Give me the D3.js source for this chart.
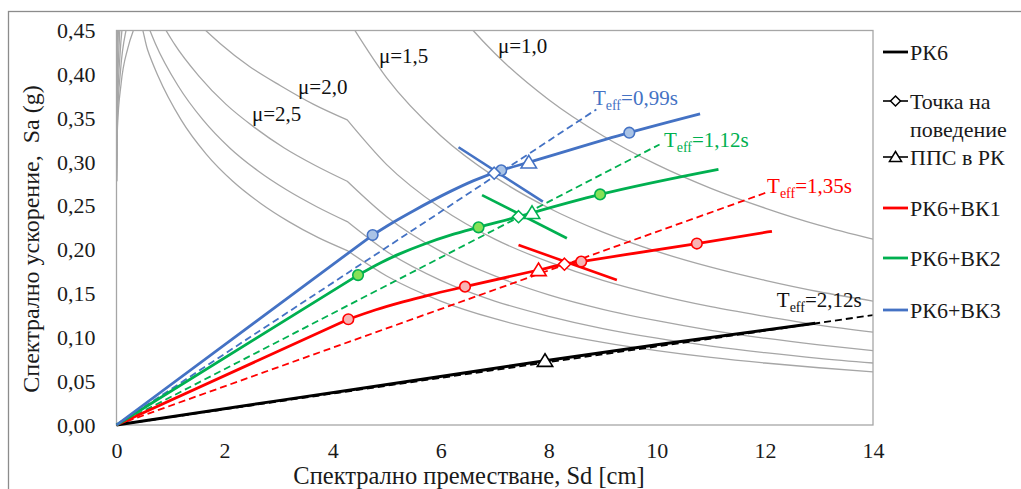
<!DOCTYPE html>
<html>
<head>
<meta charset="utf-8">
<script src="https://cdn.jsdelivr.net/npm/d3@7"></script>
<style>
  body { margin: 0; background: #fff; }
  svg { display: block; }
</style>
</head>
<body>
<svg id="chart" width="1021" height="489"></svg>
<script>
// axis ticks
const xTicks = [0, 2, 4, 6, 8, 10, 12, 14];
const yTicks = [0, 0.05, 0.1, 0.15, 0.2, 0.25, 0.3, 0.35, 0.4, 0.45];

// reduced demand spectra (Sd [cm], Sa [g]) for each ductility mu
const demand10 = [[0, 0.278], [0.006, 0.382], [0.03, 0.487], [0.083, 0.591], [0.173, 0.696], [4.27, 0.696], [5, 0.594], [6, 0.495], [6.6, 0.45], [7, 0.424], [8, 0.371], [9, 0.33], [10, 0.297], [11, 0.27], [12, 0.2475], [13, 0.228], [14, 0.212]];
const demand15 = [[0, 0.278], [0.0086, 0.373], [0.043, 0.463], [0.115, 0.55], [0.236, 0.633], [0.501, 0.605], [1.281, 0.557], [2.329, 0.516], [3.246, 0.488], [4.27, 0.464], [5, 0.396], [6, 0.33], [7, 0.283], [8, 0.2475], [9, 0.22], [10, 0.198], [11, 0.18], [12, 0.165], [13, 0.152], [14, 0.1414]];
const demand20 = [[0, 0.278], [0.0112, 0.364], [0.0549, 0.442], [0.1437, 0.514], [0.288, 0.58], [0.591, 0.535], [0.976, 0.497], [1.423, 0.464], [1.922, 0.435], [2.461, 0.409], [3.036, 0.387], [3.64, 0.366], [4.27, 0.348], [5, 0.297], [6, 0.2475], [7, 0.212], [8, 0.186], [9, 0.165], [10, 0.1485], [11, 0.135], [12, 0.124], [13, 0.114], [14, 0.106]];
const demand25 = [[0, 0.278], [0.0137, 0.355], [0.0657, 0.423], [0.1686, 0.482], [0.333, 0.535], [0.663, 0.48], [1.0675, 0.435], [1.525, 0.398], [2.023, 0.366], [2.552, 0.3395], [3.105, 0.316], [3.68, 0.296], [4.27, 0.278], [5, 0.2376], [6, 0.198], [7, 0.17], [8, 0.1485], [9, 0.132], [10, 0.119], [11, 0.108], [12, 0.099], [13, 0.0914], [14, 0.0849]];
const demand30 = [[0, 0.278], [0.0161, 0.347], [0.0755, 0.405], [0.1906, 0.455], [0.371, 0.497], [0.534, 0.464], [0.72, 0.435], [1.139, 0.387], [1.601, 0.348], [2.096, 0.316], [2.615, 0.29], [3.153, 0.268], [3.706, 0.249], [4.27, 0.232], [5, 0.198], [6, 0.165], [7, 0.1414], [8, 0.124], [9, 0.11], [10, 0.099], [11, 0.09], [12, 0.0825], [13, 0.076], [14, 0.0707]];
const demand35 = [[0, 0.278], [0.0184, 0.34], [0.0846, 0.389], [0.21, 0.43], [0.318, 0.451], [0.403, 0.464], [0.575, 0.428], [0.769, 0.398], [1.196, 0.348], [1.66, 0.309], [2.152, 0.278], [2.663, 0.253], [3.188, 0.232], [3.725, 0.214], [4.27, 0.199], [5, 0.17], [6, 0.1414], [7, 0.1212], [8, 0.106], [9, 0.0943], [10, 0.0849], [11, 0.0771], [12, 0.0707], [13, 0.0653], [14, 0.0606]];
const demandCurves = [demand10, demand15, demand20, demand25, demand30, demand35];
const cornerSd = 4.27; // kink of the reduced spectra

// capacity curves
const pk6 = [[0, 0], [3, 0.0278], [6.18, 0.057], [7.93, 0.0733], [10, 0.0915], [12.93, 0.116]];
const pk6bk1 = [[0, 0], [4.29, 0.1206], [4.8, 0.1315], [5.3, 0.1405], [5.8, 0.1485], [6.45, 0.1578], [7.81, 0.1768], [8.29, 0.1834], [8.6, 0.1864], [10.74, 0.207], [12.13, 0.221]];
const pk6bk2 = [[0, 0], [4.47, 0.171], [4.9, 0.1855], [5.25, 0.1955], [5.7, 0.2065], [6.18, 0.2165], [6.7, 0.2255], [7.44, 0.2376], [7.69, 0.242], [8.95, 0.263], [11.14, 0.2917]];
const pk6bk3 = [[0, 0], [4.74, 0.2167], [5.1, 0.2305], [5.5, 0.2445], [6.18, 0.2665], [6.6, 0.2785], [7.12, 0.2905], [7.63, 0.2996], [9.49, 0.3334], [10.8, 0.3548]];

// circles on the capacity curves
const bk1Circles = [[4.29, 0.1206], [6.45, 0.1578], [8.6, 0.1864], [10.74, 0.207]];
const bk2Circles = [[4.47, 0.171], [6.7, 0.2255], [8.95, 0.263]];
const bk3Circles = [[4.74, 0.2167], [7.12, 0.2905], [9.49, 0.3334]];

// performance points (diamond) and PPS points (triangle)
const perfPoints = [[8.29, 0.1834], [7.44, 0.2376], [6.99, 0.2872]];
const ppsPoints = [[7.93, 0.0733], [7.81, 0.1768], [7.69, 0.242], [7.63, 0.2996]];

// effective period lines (dashed)
const teffLabels = ['2,12', '1,35', '1,12', '0,99'];
const teffLines = [
  [[0, 0], [14, 0.1254]],
  [[0, 0], [12.02, 0.265]],
  [[0, 0], [10.05, 0.32]],
  [[0, 0], [8.88, 0.36]]
];

// short demand segments through the performance points
const crossBk1 = [[7.44, 0.2053], [9.26, 0.1654]];
const crossBk2 = [[6.765, 0.2623], [8.335, 0.213]];
const crossBk3 = [[6.33, 0.3168], [7.89, 0.2547]];

const legendNames = ['РК6', 'Точка на', 'ППС в РК', 'РК6+ВК1', 'РК6+ВК2', 'РК6+ВК3'];

const RED = '#ff0000', GREEN = '#00b050', BLUE = '#4472c4', GRAY = '#a6a6a6';
const FONT = '"Liberation Serif", "Times New Roman", "DejaVu Serif", serif';

const svg = d3.select('#chart').attr('font-family', FONT);
const x = d3.scaleLinear().domain([0, 14]).range([116.5, 873]);
const y = d3.scaleLinear().domain([0, 0.45]).range([425, 30.5]);

// outer frame
svg.append('rect')
  .attr('x', 8.5).attr('y', 11.5).attr('width', 1100).attr('height', 600)
  .attr('fill', 'none').attr('stroke', '#8c8c8c').attr('stroke-width', 1.3);

svg.append('clipPath').attr('id', 'plot')
  .append('rect')
  .attr('x', x(0)).attr('y', y(0.45))
  .attr('width', x(14) - x(0)).attr('height', y(0) - y(0.45));

const line = d3.line().x(d => x(d[0])).y(d => y(d[1]));
const smooth = d3.line().x(d => x(d[0])).y(d => y(d[1])).curve(d3.curveMonotoneX);

// two smooth pieces joined at the corner, so the kink stays sharp
const kinked = d => smooth(d.filter(p => p[0] <= cornerSd)) +
  smooth(d.filter(p => p[0] >= cornerSd)).replace(/^M/, 'L');

// straight elastic part up to the first point, smooth after it
const capacity = d => line(d.slice(0, 2)) + smooth(d.slice(1)).replace(/^M/, 'L');

const plot = svg.append('g').attr('clip-path', 'url(#plot)');

plot.append('g')
  .selectAll('path')
  .data(demandCurves)
  .enter()
  .append('path')
  .attr('d', kinked)
  .attr('fill', 'none')
  .attr('stroke', GRAY)
  .attr('stroke-width', 1.3);

// plot border
svg.append('rect')
  .attr('x', x(0)).attr('y', y(0.45))
  .attr('width', x(14) - x(0)).attr('height', y(0) - y(0.45))
  .attr('fill', 'none').attr('stroke', GRAY).attr('stroke-width', 1.3);

// dashed Teff lines
const teffColors = ['#000', RED, GREEN, BLUE];
plot.append('g')
  .selectAll('path')
  .data(teffLines)
  .enter()
  .append('path')
  .attr('d', line)
  .attr('fill', 'none')
  .attr('stroke', (d, i) => teffColors[i])
  .attr('stroke-width', 1.8)
  .attr('stroke-dasharray', '7,4');

// demand segments
[[crossBk1, RED], [crossBk2, GREEN], [crossBk3, BLUE]].forEach(([d, c]) => {
  svg.append('path').attr('d', line(d)).attr('fill', 'none')
    .attr('stroke', c).attr('stroke-width', 2.6);
});

// capacity curves
svg.append('path').attr('d', smooth(pk6)).attr('fill', 'none')
  .attr('stroke', '#000').attr('stroke-width', 3);
[[pk6bk1, RED], [pk6bk2, GREEN], [pk6bk3, BLUE]].forEach(([d, c]) => {
  svg.append('path').attr('d', capacity(d)).attr('fill', 'none')
    .attr('stroke', c).attr('stroke-width', 2.8).attr('stroke-linejoin', 'round');
});

// circles
[[bk1Circles, RED, '#f7b4b4'], [bk2Circles, GREEN, '#86e157'], [bk3Circles, BLUE, '#a9c3e6']].forEach(([d, c, f]) => {
  svg.append('g')
    .selectAll('circle')
    .data(d)
    .enter()
    .append('circle')
    .attr('cx', p => x(p[0]))
    .attr('cy', p => y(p[1]))
    .attr('r', 5.3)
    .attr('fill', f)
    .attr('stroke', c)
    .attr('stroke-width', 1.6);
});

const diamond = s => `M0,${-s}L${s},0L0,${s}L${-s},0Z`;
const triangle = s => `M0,${-s}L${s * 1.1},${s * 0.8}L${-s * 1.1},${s * 0.8}Z`;

const perfColors = [RED, GREEN, BLUE];
svg.append('g')
  .selectAll('path')
  .data(perfPoints)
  .enter()
  .append('path')
  .attr('transform', d => `translate(${x(d[0])},${y(d[1])})`)
  .attr('d', diamond(6))
  .attr('fill', '#fff')
  .attr('stroke', (d, i) => perfColors[i])
  .attr('stroke-width', 1.6);

const ppsColors = ['#000', RED, GREEN, BLUE];
svg.append('g')
  .selectAll('path')
  .data(ppsPoints)
  .enter()
  .append('path')
  .attr('transform', d => `translate(${x(d[0])},${y(d[1])})`)
  .attr('d', triangle(7))
  .attr('fill', '#fff')
  .attr('stroke', (d, i) => ppsColors[i])
  .attr('stroke-width', 1.6);

// mu labels
const muText = [['μ=2,5', 2.506, 0.3468], ['μ=2,0', 3.36, 0.3776], ['μ=1,5', 4.857, 0.4129], ['μ=1,0', 7.06, 0.4243]];
svg.append('g')
  .selectAll('text')
  .data(muText)
  .enter()
  .append('text')
  .attr('x', d => x(d[1]))
  .attr('y', d => y(d[2]))
  .attr('font-size', 21)
  .attr('fill', '#111')
  .text(d => d[0]);

// Teff labels
const teffPos = [[12.22, 0.1346], [12.04, 0.2646], [10.13, 0.3171], [8.817, 0.365]];
teffLabels.forEach((lab, i) => {
  const t = svg.append('text')
    .attr('x', x(teffPos[i][0]))
    .attr('y', y(teffPos[i][1]))
    .attr('font-size', 21)
    .attr('fill', teffColors[i] === '#000' ? '#111' : teffColors[i]);
  t.append('tspan').text('T');
  t.append('tspan').attr('dy', 5).attr('font-size', 14).text('eff');
  t.append('tspan').attr('dy', -5).text('=' + lab + 's');
});

// axes
const xAxis = svg.append('g')
  .attr('transform', `translate(0,${y(0)})`)
  .call(d3.axisBottom(x).tickValues(xTicks).tickSize(0).tickPadding(17).tickFormat(d3.format('d')));
const yAxis = svg.append('g')
  .attr('transform', `translate(${x(0)},0)`)
  .call(d3.axisLeft(y).tickValues(yTicks).tickSize(0).tickPadding(21)
    .tickFormat(d => d3.format('.2f')(d).replace('.', ',')));
[xAxis, yAxis].forEach(g => {
  g.attr('font-family', FONT).attr('font-size', 22);
  g.select('.domain').remove();
  g.selectAll('text').attr('fill', '#1a1a1a');
});

svg.append('text')
  .attr('x', 469).attr('y', 484)
  .attr('text-anchor', 'middle')
  .attr('font-size', 24.5)
  .attr('fill', '#1a1a1a')
  .text('Спектрално преместване, Sd [cm]');

svg.append('text')
  .attr('transform', 'translate(39,239) rotate(-90)')
  .attr('text-anchor', 'middle')
  .attr('font-size', 24)
  .attr('fill', '#1a1a1a')
  .style('white-space', 'pre')
  .text('Спектрално ускорение,  Sa (g)');

// legend
const legend = svg.append('g');
const legRows = [52, 101, 157, 208, 258, 310];
const legColors = ['#000', '#000', '#000', RED, GREEN, BLUE];
legRows.forEach((ly, i) => {
  legend.append('line')
    .attr('x1', 883).attr('x2', 908).attr('y1', ly).attr('y2', ly)
    .attr('stroke', legColors[i]).attr('stroke-width', i === 1 || i === 2 ? 1.6 : 2.8);
  if (i === 1) {
    legend.append('path').attr('transform', `translate(895.5,${ly})`)
      .attr('d', diamond(5)).attr('fill', '#fff').attr('stroke', '#000').attr('stroke-width', 1.5);
  }
  if (i === 2) {
    legend.append('path').attr('transform', `translate(895.5,${ly})`)
      .attr('d', triangle(5.5)).attr('fill', '#fff').attr('stroke', '#000').attr('stroke-width', 1.5);
  }
  legend.append('text')
    .attr('x', 910).attr('y', ly + 7.5)
    .attr('font-size', 22)
    .attr('fill', '#1a1a1a')
    .text(legendNames[i]);
});
legend.append('text')
  .attr('x', 910).attr('y', 136.5)
  .attr('font-size', 22)
  .attr('fill', '#1a1a1a')
  .text('поведение');
</script>
</body>
</html>
